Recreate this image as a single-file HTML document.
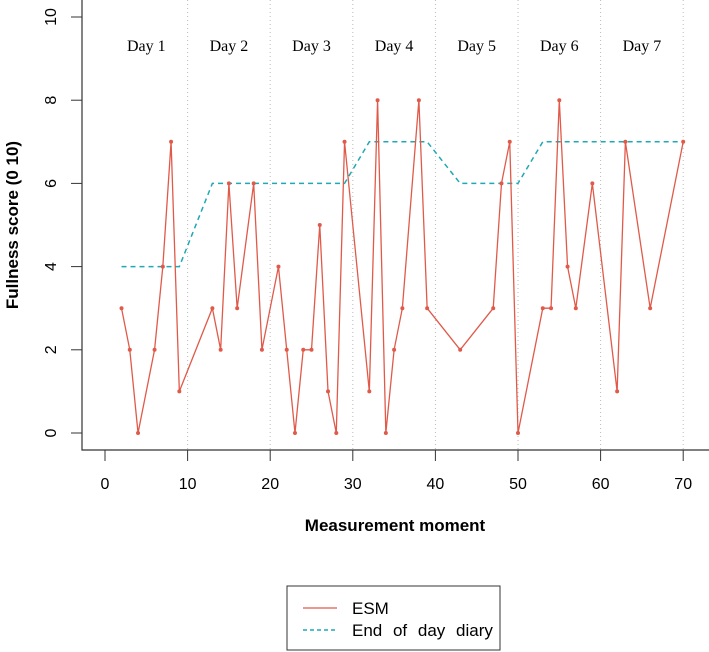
<!DOCTYPE html>
<html><head><meta charset="utf-8"><style>body{margin:0;background:#fff}svg{display:block}</style></head>
<body>
<svg id="chart" width="709" height="652" font-family="Liberation Sans, sans-serif"></svg>
<script>
const esmX=[2,3,4,6,7,8,9,13,14,15,16,18,19,21,22,23,24,25,26,27,28,29,32,33,34,35,36,38,39,43,47,48,49,50,53,54,55,56,57,59,62,63,66,70];
const esmY=[3,2,0,2,4,7,1,3,2,6,3,6,2,4,2,0,2,2,5,1,0,7,1,8,0,2,3,8,3,2,3,6,7,0,3,3,8,4,3,6,1,7,3,7];
const diaryX=[2,9,13,29,32,39,43,50,53,70];
const diaryY=[4,4,6,6,7,7,6,6,7,7];
const xTicks=[0,10,20,30,40,50,60,70];
const yTicks=[0,2,4,6,8,10];
const dayLabels=["Day 1","Day 2","Day 3","Day 4","Day 5","Day 6","Day 7"];
const dayCenters=[5,15,25,35,45,55,65];
const dayBounds=[10,20,30,40,50,60,70];

const NS="http://www.w3.org/2000/svg";
const svg=document.getElementById('chart');
const X=v=>105+v*8.26;
const Y=v=>433-v*41.6;
function el(t,a,p){const e=document.createElementNS(NS,t);for(const k in a)e.setAttribute(k,a[k]);(p||svg).appendChild(e);return e;}

dayBounds.forEach((d,i)=>{const l=el('line',{x1:X(d),x2:X(d),y1:0,y2:450,stroke:'#bbb','stroke-dasharray':'1,3'});

});
dayLabels.forEach((t,i)=>{const e=el('text',{x:X(dayCenters[i]),y:51,'text-anchor':'middle','font-family':'Liberation Serif, serif','font-size':16});e.textContent=t;

});

const ax=el('path',{d:'M82,0V450H709',fill:'none',stroke:'#333','stroke-width':1.2});


xTicks.forEach(v=>{el('line',{x1:X(v),x2:X(v),y1:450,y2:461,stroke:'#333'});
const t=el('text',{x:X(v),y:489,'text-anchor':'middle','font-size':16});t.textContent=v;

});
yTicks.forEach(v=>{el('line',{x1:71,x2:82,y1:Y(v),y2:Y(v),stroke:'#333'});
const t=el('text',{x:56,y:Y(v),'text-anchor':'middle','font-size':16,transform:`rotate(-90 56 ${Y(v)})`});t.textContent=v;

});
const xt=el('text',{x:395,y:531,'text-anchor':'middle','font-size':17,'font-weight':'bold'});xt.textContent='Measurement moment';


const yt=el('text',{x:18,y:225,'text-anchor':'middle','font-size':17,'font-weight':'bold',transform:'rotate(-90 18 225)'});yt.textContent='Fullness score (0  10)';



const dl=el('polyline',{points:diaryX.map((x,i)=>X(x)+','+Y(diaryY[i])).join(' '),fill:'none',stroke:'#1fa8b5','stroke-width':1.5,'stroke-dasharray':'5,4'});


const el2=el('polyline',{points:esmX.map((x,i)=>X(x)+','+Y(esmY[i])).join(' '),fill:'none',stroke:'#e05a4a','stroke-width':1.3});


esmX.forEach((x,i)=>{const c=el('circle',{cx:X(x),cy:Y(esmY[i]),r:2,fill:'#e05a4a'});

});

const lg=el('g',{});


el('rect',{x:287,y:586,width:213,height:64,fill:'#fff',stroke:'#333'},lg);
el('line',{x1:303,x2:337,y1:608,y2:608,stroke:'#e05a4a','stroke-width':1.3},lg);
el('line',{x1:303,x2:337,y1:630,y2:630,stroke:'#1fa8b5','stroke-width':1.5,'stroke-dasharray':'4,3'},lg);
const l1=el('text',{x:352,y:614,'font-size':17},lg);l1.textContent='ESM';
const l2=el('text',{x:352,y:636,'font-size':17,'word-spacing':'6'},lg);l2.textContent='End of day diary';
</script>
</body></html>
